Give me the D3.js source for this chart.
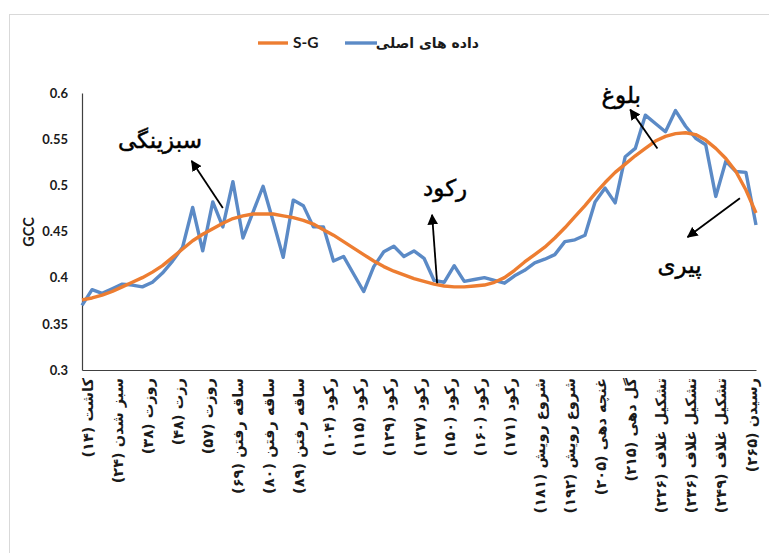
<!DOCTYPE html>
<html>
<head>
<meta charset="utf-8"/>
<script src="https://cdn.jsdelivr.net/npm/d3@7/dist/d3.min.js"></script>
<style>
  body { margin:0; background:#fff; }
  .tick text { fill:#1a1a1a; }
</style>
</head>
<body>
<svg id="chart" width="769" height="553"></svg>
<script>
// category labels (one every 3rd image date)
var labels = ["کاشت (۱۴)","سبز شدن (۲۴)","روزت (۳۸)","رزت (۴۸)","روزت (۵۷)","ساقه رفتن (۶۹)",
  "ساقه رفتن (۸۰)","ساقه رفتن (۸۹)","رکود (۱۰۴)","رکود (۱۱۵)","رکود (۱۲۹)","رکود (۱۳۷)",
  "رکود (۱۵۰)","رکود (۱۶۰)","رکود (۱۷۱)","شروع رویش (۱۸۱)","شروع رویش (۱۹۲)","غنچه دهی (۲۰۵)",
  "گل دهی (۲۱۵)","تشکیل غلاف (۲۲۶)","تشکیل غلاف (۲۳۶)","تشکیل غلاف (۲۴۹)","رسیدن (۲۶۵)"];

// original GCC values
var raw = [0.370,0.387,0.383,0.388,0.393,0.392,0.390,0.395,0.405,0.418,
  0.433,0.476,0.429,0.482,0.455,0.504,0.443,0.471,0.499,0.461,
  0.422,0.484,0.478,0.455,0.455,0.418,0.423,0.404,0.385,0.412,
  0.428,0.434,0.423,0.429,0.421,0.397,0.395,0.413,0.396,0.398,
  0.400,0.397,0.394,0.402,0.408,0.416,0.420,0.425,0.439,0.441,
  0.446,0.482,0.497,0.481,0.531,0.540,0.576,0.567,0.558,0.581,
  0.564,0.551,0.544,0.488,0.526,0.515,0.514,0.457];

// Savitzky-Golay smoothed
var sg = [0.376,0.378,0.381,0.385,0.390,0.395,0.400,0.406,0.413,0.422,
  0.431,0.440,0.447,0.453,0.459,0.464,0.467,0.469,0.469,0.469,
  0.467,0.465,0.462,0.458,0.452,0.446,0.439,0.432,0.425,0.418,
  0.412,0.407,0.403,0.399,0.396,0.393,0.391,0.390,0.390,0.391,
  0.392,0.395,0.400,0.408,0.417,0.425,0.433,0.443,0.454,0.466,
  0.478,0.491,0.503,0.514,0.523,0.532,0.540,0.548,0.553,0.556,
  0.557,0.555,0.549,0.540,0.529,0.515,0.495,0.470];

var yTicks = [0.3,0.35,0.4,0.45,0.5,0.55,0.6];

// stage notes: text spot and arrow tail/head in (index, GCC)
var notes = [
  {text:"سبزینگی", tx:7.75, ty:0.549, x1:14.0, y1:0.4755, x2:10.9, y2:0.5264},
  {text:"رکود",    tx:36.1, ty:0.497, x1:35.3, y1:0.394,  x2:34.8, y2:0.468},
  {text:"بلوغ",    tx:53.6, ty:0.598, x1:57.2, y1:0.540,  x2:54.5, y2:0.582},
  {text:"پیری",    tx:59.4, ty:0.414, x1:65.4, y1:0.486,  x2:60.2, y2:0.444}
];

var svg = d3.select("#chart");
var x = d3.scaleLinear().domain([0, raw.length-1]).range([82, 756]);
var y = d3.scaleLinear().domain([0.3, 0.6]).range([370, 93]);

// outer frame
svg.append("rect").attr("x",9.5).attr("y",14.5).attr("width",800).attr("height",600)
  .attr("fill","none").attr("stroke","#d9d9d9");

svg.append("defs").append("marker")
  .attr("id","arr").attr("viewBox","0 0 10 10").attr("refX",9).attr("refY",5)
  .attr("markerWidth",6).attr("markerHeight",6).attr("orient","auto")
  .append("path").attr("d","M0,0 L10,5 L0,10 z").attr("fill","#000");

// y axis
var ya = svg.append("g").attr("transform","translate(82,0)")
  .call(d3.axisLeft(y).tickValues(yTicks).tickSize(0).tickPadding(14)
    .tickFormat(function(d){ return String(+d.toFixed(2)); }));
ya.select(".domain").attr("stroke","#404040").attr("stroke-width",1.2);
ya.selectAll("text").attr("font-family","Lato").attr("font-weight","bold").attr("font-size",13);

// x axis
var xa = svg.append("g").attr("transform","translate(0,370)")
  .call(d3.axisBottom(x).tickValues(labels.map(function(d,i){ return i*3; }))
    .tickSize(0).tickFormat(function(d){ return labels[d/3]; }));
xa.select(".domain").attr("stroke","#404040").attr("stroke-width",1.2);
xa.selectAll("text")
  .attr("transform","rotate(-90)")
  .attr("x",-8).attr("y",5).attr("dy","0.35em")
  .attr("text-anchor","end")
  .attr("font-family","DejaVu Sans").attr("font-weight","bold").attr("font-size",14.5);

svg.append("text").attr("transform","translate(29,232) rotate(-90)")
  .attr("text-anchor","middle").attr("dy","0.35em")
  .attr("font-family","Lato").attr("font-weight","bold").attr("font-size",14.5)
  .attr("fill","#1a1a1a").text("GCC");

var line = d3.line().x(function(d,i){ return x(i); }).y(function(d){ return y(d); });
svg.append("path").datum(raw).attr("d",line).attr("fill","none")
  .attr("stroke","#5b8ac6").attr("stroke-width",3.4).attr("stroke-linejoin","round");
svg.append("path").datum(sg).attr("d",line).attr("fill","none")
  .attr("stroke","#ed7d31").attr("stroke-width",3.4).attr("stroke-linejoin","round");

// annotations
notes.forEach(function(n){
  svg.append("line").attr("x1",x(n.x1)).attr("y1",y(n.y1)).attr("x2",x(n.x2)).attr("y2",y(n.y2))
    .attr("stroke","#000").attr("stroke-width",1.8).attr("marker-end","url(#arr)");
  svg.append("text").attr("x",x(n.tx)).attr("y",y(n.ty)).attr("dy","0.35em")
    .attr("text-anchor","middle").attr("font-family","DejaVu Sans").attr("font-size",23)
    .attr("fill","#000").attr("stroke","#000").attr("stroke-width",0.5).text(n.text);
});

// legend
var lg = svg.append("g");
lg.append("line").attr("x1",258).attr("x2",288).attr("y1",43).attr("y2",43)
  .attr("stroke","#ed7d31").attr("stroke-width",3.4);
lg.append("text").attr("x",293).attr("y",43).attr("dy","0.35em")
  .attr("font-family","Lato").attr("font-weight","bold").attr("font-size",15.5)
  .attr("fill","#1a1a1a").text("S-G");
lg.append("line").attr("x1",345).attr("x2",377).attr("y1",43).attr("y2",43)
  .attr("stroke","#5b8ac6").attr("stroke-width",3.4);
lg.append("text").attr("x",479).attr("y",43).attr("dy","0.35em").attr("text-anchor","end")
  .attr("font-family","DejaVu Sans").attr("font-weight","bold").attr("font-size",14)
  .attr("fill","#1a1a1a").text("داده های اصلی");
</script>
</body>
</html>
